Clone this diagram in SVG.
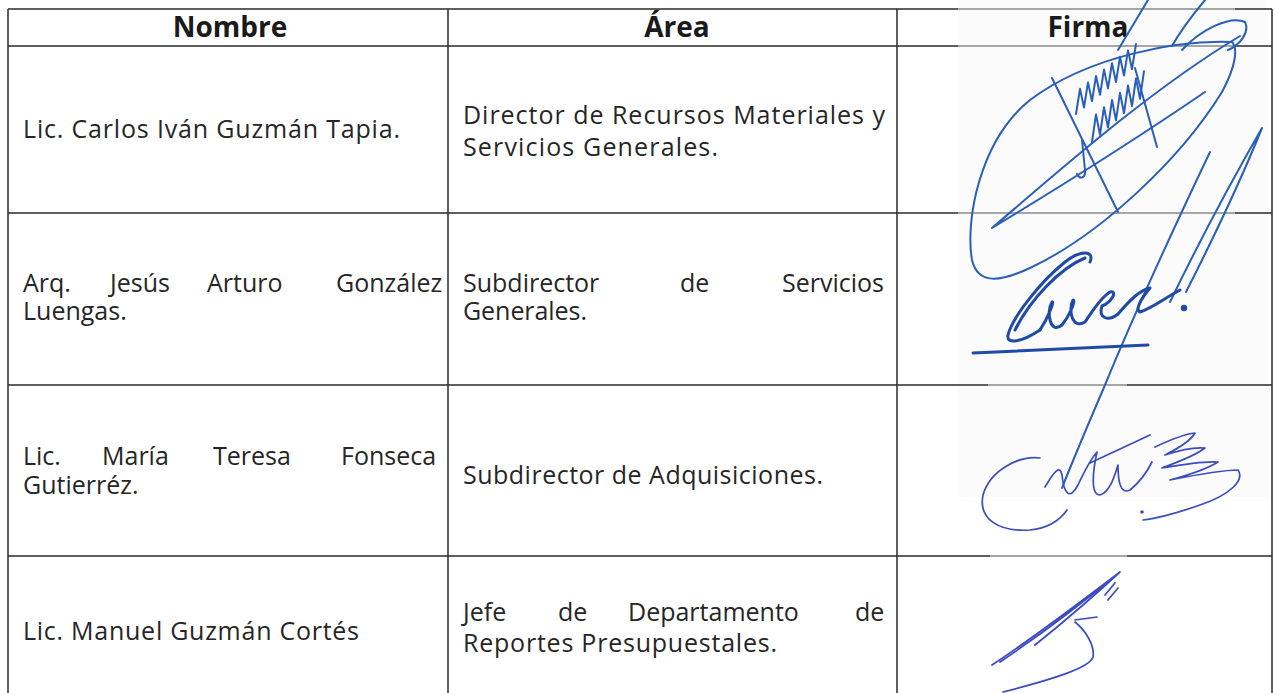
<svg xmlns="http://www.w3.org/2000/svg" width="1275" height="693" viewBox="0 0 1275 693">
<style>
.t{font-family:"Open Sans","Noto Sans",sans-serif;font-size:25px;fill:#262626}
.h{font-family:"Open Sans","Noto Sans",sans-serif;font-size:28px;font-weight:bold;fill:#1a1a1a;text-anchor:middle}
.g{stroke:#2b2b2b;stroke-width:1.5;fill:none}
.gl{stroke:#8a8a8a;stroke-width:1.5;fill:none}
.s1{stroke:#2a5fb8;stroke-width:2;fill:none;stroke-linecap:round;stroke-linejoin:round}
.s2{stroke:#1f4aa6;stroke-width:3;fill:none;stroke-linecap:round;stroke-linejoin:round}
.s3{stroke:#3a4cc0;stroke-width:1.7;fill:none;stroke-linecap:round;stroke-linejoin:round}
</style>
<rect x="0" y="0" width="1275" height="693" fill="#ffffff"/>
<g id="scan-bg">
<rect x="958" y="0" width="308" height="385" fill="#fbfbfb"/>
<rect x="958" y="385" width="312" height="112" fill="#fbfbfb"/>
</g>
<g id="grid">
<path class="g" d="M8 9H958 M1235 9H1272 M8 46H958 M1235 46H1272 M8 213H958 M1235 213H1272 M8 385H988 M1127 385H1272 M8 556H990 M1127 556H1272"/>
<path class="gl" d="M958 9H1235 M958 46H1235 M958 213H1235 M988 385H1127 M990 556H1127"/>
<path class="g" d="M8 9V693 M448 9V693 M897 9V693 M1272 9V693"/>
</g>
<g id="header">
<text class="h" x="230" y="37">Nombre</text>
<text class="h" x="677" y="37">Área</text>
<text class="h" x="1088" y="37">Firma</text>
</g>
<g id="row1">
<text class="t" x="23" y="138" textLength="377" lengthAdjust="spacing">Lic. Carlos Iván Guzmán Tapia.</text>
<text class="t" x="463" y="124" textLength="422" lengthAdjust="spacing">Director de Recursos Materiales y</text>
<text class="t" x="463" y="156" textLength="255" lengthAdjust="spacing">Servicios Generales.</text>
</g>
<g id="row2">
<text class="t" y="292"><tspan x="23">Arq.</tspan><tspan x="110">Jesús</tspan><tspan x="207">Arturo</tspan><tspan x="336">González</tspan></text>
<text class="t" x="23" y="320">Luengas.</text>
<text class="t" y="292"><tspan x="463">Subdirector</tspan><tspan x="680">de</tspan><tspan x="782">Servicios</tspan></text>
<text class="t" x="463" y="320" textLength="124" lengthAdjust="spacing">Generales.</text>
</g>
<g id="row3">
<text class="t" y="465"><tspan x="23">Lic.</tspan><tspan x="102">María</tspan><tspan x="213">Teresa</tspan><tspan x="341">Fonseca</tspan></text>
<text class="t" x="23" y="494">Gutierréz.</text>
<text class="t" x="463" y="484" textLength="360" lengthAdjust="spacing">Subdirector de Adquisiciones.</text>
</g>
<g id="row4">
<text class="t" x="23" y="640" textLength="336" lengthAdjust="spacing">Lic. Manuel Guzmán Cortés</text>
<text class="t" y="621"><tspan x="463">Jefe</tspan><tspan x="558">de</tspan><tspan x="628">Departamento</tspan><tspan x="855">de</tspan></text>
<text class="t" x="463" y="652" textLength="314" lengthAdjust="spacing">Reportes Presupuestales.</text>
</g>
<g id="firma1">
<path class="s1" d="M1232 42 C1180 40 1090 55 1030 100 C980 140 965 220 972 260 C978 285 1000 282 1030 268 C1100 235 1180 160 1222 92 C1236 66 1238 48 1232 42"/>
<path class="s1" d="M1240 36 C1150 90 1060 170 992 228 C1030 205 1120 150 1205 92"/>
<path class="s1" d="M1148 0 L1118 50 M1205 0 C1195 12 1182 28 1172 46 M1182 50 C1200 30 1230 15 1245 22 C1250 32 1240 45 1228 50"/>
<polyline class="s1" stroke-width="1.6" points="1076,114 1080,88.8 1084,107.6 1088,82.4 1092,101.2 1096,76 1100,94.8 1104,69.6 1108,88.4 1112,63.2 1116,82 1120,56.8 1124,75.6 1128,50.4 1132,69.2 1136,44"/>
<polyline class="s1" stroke-width="1.6" points="1092,142 1096,114.4 1100,134.8 1104,107.2 1108,127.6 1112,100 1116,120.4 1120,92.8 1124,113.2 1128,85.6 1132,106 1136,78.4 1140,98.8 1144,71.2"/>
<path class="s1" d="M1052 78 L1118 212 M1135 68 L1157 147 M1082 140 L1085 170 C1086 178 1080 180 1077 174"/>
<path class="s1" d="M1210 152 C1180 215 1140 300 1105 385 C1090 420 1075 455 1062 488"/>
<path class="s1" d="M1262 128 C1235 175 1200 240 1170 302 M1262 128 C1245 170 1215 235 1186 292"/>
</g>
<g id="firma2">
<path class="s2" d="M1090 262 C1095 250 1080 250 1065 262 C1040 282 1012 318 1008 335 C1006 345 1022 342 1040 330 M1085 258 C1060 268 1030 300 1015 330"/>
<path class="s2" d="M1040 330 C1048 318 1055 300 1052 302 C1046 312 1050 335 1062 325 C1070 315 1076 300 1073 300 C1068 310 1072 330 1085 322 C1092 312 1100 298 1110 292 C1118 290 1112 302 1102 306 C1098 318 1108 322 1118 314 C1130 300 1140 290 1150 288 C1140 300 1135 310 1140 312 C1152 308 1165 298 1180 290"/>
<circle cx="1184" cy="308" r="3.2" fill="#1f4aa6"/>
<path class="s2" stroke-width="2.4" d="M973 353 L1148 345"/>
</g>
<g id="firma3">
<path class="s3" d="M1040 458 C1020 455 990 470 983 495 C978 520 1000 532 1030 530 C1050 528 1060 520 1067 510"/>
<path class="s3" d="M1045 487 C1055 470 1060 465 1062 475 C1064 495 1070 500 1078 485 C1085 470 1090 460 1097 452 C1093 470 1090 495 1100 495 C1110 492 1115 475 1118 465 C1118 480 1120 495 1130 490 C1140 482 1148 470 1152 462"/>
<path class="s3" d="M1090 463 L1150 435"/>
<path class="s3" d="M1155 447 C1170 440 1185 434 1195 433 C1190 442 1175 450 1165 455 C1180 450 1195 447 1205 448 C1195 456 1175 463 1162 468 C1185 464 1205 461 1218 462 C1205 470 1185 476 1170 480 C1195 475 1220 470 1238 470 C1245 480 1230 495 1200 505 C1180 512 1160 518 1143 520"/>
<circle cx="1142" cy="512" r="1.8" fill="#3a4cc0"/>
</g>
<g id="firma4">
<path class="s3" d="M992 665 C1030 640 1070 610 1120 572 C1095 595 1060 625 1035 645 M1000 662 C1040 635 1080 605 1112 578"/>
<path class="s3" d="M1075 622 C1085 630 1095 645 1093 657 C1090 668 1050 680 1003 692"/>
<path class="s3" d="M1105 595 L1115 583 M1108 600 L1118 588 M1075 620 L1097 617"/>
</g>
<g id="connectors"/>
</svg>
